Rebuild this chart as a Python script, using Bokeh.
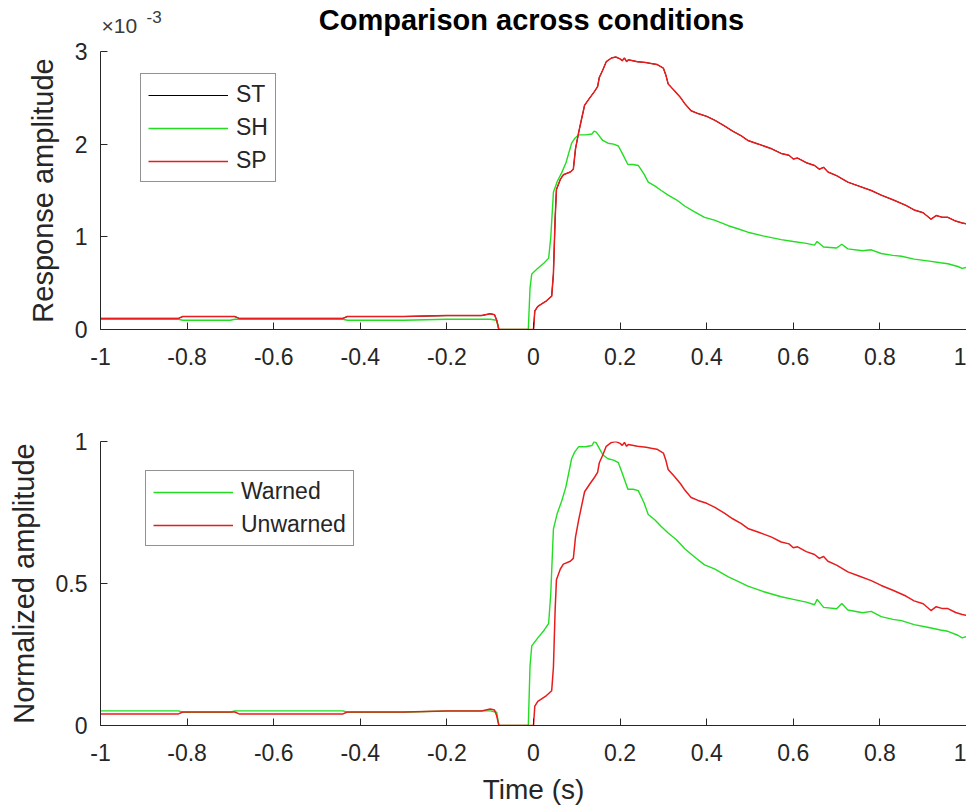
import numpy as np
from bokeh.plotting import figure
from bokeh.layouts import column
from bokeh.models import Range1d, FixedTicker, Label, Legend, LegendItem
from bokeh.embed import file_html
from bokeh.resources import INLINE

# ---------------- data ----------------
# Top panel: response amplitude, in units of 1e-3
sp_time = [-1.0, -0.9, -0.82, -0.81, -0.69, -0.68, -0.44, -0.43, -0.30, -0.20,
           -0.12, -0.10, -0.09, -0.085, -0.08, -0.04, 0.0, 0.003, 0.01, 0.03,
           0.042, 0.046, 0.050, 0.053, 0.062, 0.069, 0.085, 0.092, 0.097, 0.104,
           0.110, 0.118, 0.130, 0.141, 0.148, 0.152, 0.160, 0.168, 0.180, 0.190,
           0.200, 0.205, 0.210, 0.215, 0.219, 0.240, 0.260, 0.272, 0.285, 0.300,
           0.306, 0.311, 0.325, 0.340, 0.349, 0.364, 0.380, 0.400, 0.418, 0.440,
           0.460, 0.480, 0.495, 0.520, 0.550, 0.572, 0.590, 0.600, 0.610, 0.630,
           0.649, 0.660, 0.670, 0.680, 0.700, 0.726, 0.750, 0.780, 0.803, 0.830,
           0.860, 0.879, 0.900, 0.918, 0.930, 0.945, 0.957, 0.975, 0.990, 1.000]
sp_amp = [0.12, 0.12, 0.12, 0.14, 0.14, 0.12, 0.12, 0.14, 0.14, 0.15,
          0.15, 0.17, 0.16, 0.10, 0.0, 0.0, 0.0, 0.20, 0.25, 0.31,
          0.36, 0.60, 1.20, 1.51, 1.62, 1.67, 1.70, 1.73, 1.95, 2.12,
          2.25, 2.42, 2.50, 2.57, 2.62, 2.72, 2.80, 2.89, 2.93, 2.94,
          2.92, 2.90, 2.93, 2.89, 2.91, 2.89, 2.88, 2.87, 2.86, 2.82,
          2.74, 2.65, 2.58, 2.50, 2.44, 2.36, 2.33, 2.30, 2.26, 2.20,
          2.14, 2.09, 2.04, 2.00, 1.95, 1.90, 1.88, 1.84, 1.85, 1.80,
          1.77, 1.73, 1.75, 1.70, 1.66, 1.59, 1.55, 1.50, 1.45, 1.40,
          1.34, 1.29, 1.26, 1.19, 1.23, 1.21, 1.21, 1.17, 1.15, 1.14]
st_time = list(sp_time)
st_amp = list(sp_amp)

sh_time = [-1.0, -0.82, -0.81, -0.70, -0.69, -0.44, -0.43, -0.30, -0.20, -0.10,
           -0.085, -0.08, -0.012, -0.008, -0.004, 0.010, 0.025, 0.035, 0.040, 0.046,
           0.055, 0.065, 0.075, 0.088, 0.095, 0.104, 0.120, 0.135, 0.140, 0.145,
           0.150, 0.160, 0.172, 0.185, 0.196, 0.205, 0.218, 0.230, 0.242, 0.255,
           0.265, 0.280, 0.295, 0.311, 0.330, 0.350, 0.372, 0.395, 0.418, 0.450,
           0.470, 0.495, 0.530, 0.572, 0.600, 0.630, 0.649, 0.655, 0.670, 0.700,
           0.712, 0.726, 0.760, 0.780, 0.803, 0.830, 0.850, 0.879, 0.910, 0.940,
           0.957, 0.980, 0.990, 1.000]
sh_amp = [0.11, 0.11, 0.10, 0.10, 0.11, 0.11, 0.10, 0.10, 0.11, 0.11,
          0.10, 0.0, 0.0, 0.45, 0.60, 0.66, 0.72, 0.77, 1.00, 1.48,
          1.60, 1.69, 1.80, 2.01, 2.06, 2.10, 2.10, 2.11, 2.14, 2.13,
          2.10, 2.04, 2.01, 2.00, 1.98, 1.90, 1.78, 1.78, 1.77, 1.68,
          1.59, 1.55, 1.50, 1.45, 1.40, 1.33, 1.27, 1.21, 1.18, 1.12,
          1.09, 1.05, 1.01, 0.97, 0.95, 0.93, 0.91, 0.95, 0.89, 0.88,
          0.92, 0.87, 0.85, 0.86, 0.82, 0.80, 0.79, 0.76, 0.74, 0.72,
          0.71, 0.68, 0.66, 0.67]

# Bottom panel: normalized (each condition divided by its own peak)
warned_time = sh_time
warned_amp = list(np.array(sh_amp) / max(sh_amp))
unwarned_time = sp_time
unwarned_amp = list(np.array(sp_amp) / max(sp_amp))

x_ticks = [-1, -0.8, -0.6, -0.4, -0.2, 0, 0.2, 0.4, 0.6, 0.8, 1]
x_tick_labels = ["-1", "-0.8", "-0.6", "-0.4", "-0.2", "0", "0.2", "0.4", "0.6", "0.8", "1"]
top_y_ticks = [0, 1, 2, 3]
bottom_y_ticks = [0, 0.5, 1]

title_text = "Comparison across conditions"
exponent_base = "\u00d710"
exponent_power = "-3"

# ---------------- styling ----------------
FONT = "Liberation Sans"
AX = "#262626"
GREEN = "#22dd22"
RED = "#e81c1c"
BLACK = "#000000"
W = 966
FRAME_L = 100  # left border shared by all rows


def style(p, yticks, ylabels):
    p.xaxis.ticker = FixedTicker(ticks=x_ticks)
    p.xaxis.major_label_overrides = {t: l for t, l in zip(x_ticks, x_tick_labels)}
    p.yaxis.ticker = FixedTicker(ticks=yticks)
    p.yaxis.major_label_overrides = ylabels
    for ax in (p.xaxis[0], p.yaxis[0]):
        ax.axis_line_color = AX
        ax.axis_line_width = 1
        ax.major_tick_line_color = AX
        ax.major_tick_in = 7
        ax.major_tick_out = 0
        ax.minor_tick_line_color = None
        ax.major_label_text_font = FONT
        ax.major_label_text_font_size = "23px"
        ax.major_label_text_color = AX
        ax.axis_label_text_font = FONT
        ax.axis_label_text_font_size = "29px"
        ax.axis_label_text_font_style = "normal"
        ax.axis_label_text_color = AX
    p.xaxis.major_label_standoff = 18
    p.yaxis.major_label_standoff = 13
    p.yaxis.axis_label_standoff = 13
    p.xgrid.visible = False
    p.ygrid.visible = False
    p.outline_line_color = None
    p.background_fill_color = "white"
    p.border_fill_color = "white"


def make_legend(p, items, loc):
    lg = Legend(items=items, location=loc)
    lg.label_text_font = FONT
    lg.label_text_font_size = "23px"
    lg.label_text_color = AX
    lg.glyph_width = 80
    lg.glyph_height = 24
    lg.label_height = 24
    lg.label_standoff = 8
    lg.spacing = 6
    lg.padding = 7
    lg.margin = 0
    lg.border_line_color = AX
    lg.border_line_width = 1
    lg.background_fill_color = "white"
    lg.background_fill_alpha = 1.0
    p.add_layout(lg)


# ---------------- header strip (title and exponent) ----------------
# data units of the strip: x in page pixels, y in pixels up from the strip's bottom
HDR_H = 37
hdr = figure(width=W, height=HDR_H, output_backend="svg", toolbar_location=None,
             x_range=Range1d(FRAME_L, W), y_range=Range1d(0, HDR_H),
             min_border_left=FRAME_L, min_border_right=0, min_border_top=0, min_border_bottom=0)
hdr.axis.visible = False
hdr.grid.visible = False
hdr.outline_line_color = None
hdr.add_layout(Label(x=531, y=HDR_H - 19, text=title_text, text_font=FONT,
                     text_font_size="29px", text_font_style="bold", text_color="#000000",
                     text_align="center", text_baseline="middle"))
hdr.add_layout(Label(x=101, y=HDR_H - 25, text=exponent_base, text_font=FONT,
                     text_font_size="21px", text_color="#3a3a3a",
                     text_align="left", text_baseline="middle"))
hdr.add_layout(Label(x=146, y=HDR_H - 16, text=exponent_power, text_font=FONT,
                     text_font_size="17px", text_color="#3a3a3a",
                     text_align="left", text_baseline="middle"))

# ---------------- top panel ----------------
p1 = figure(width=W, height=358, output_backend="svg", toolbar_location=None,
            x_range=Range1d(-1, 1), y_range=Range1d(0, 3),
            min_border_left=FRAME_L, min_border_right=0, min_border_top=14, min_border_bottom=66)
style(p1, top_y_ticks, {0: "0", 1: "1", 2: "2", 3: "3"})
p1.yaxis.axis_label = "Response amplitude"

r_st = p1.line(st_time, st_amp, line_color=BLACK, line_width=1.0)
r_sh = p1.line(sh_time, sh_amp, line_color=GREEN, line_width=1.4)
r_sp = p1.line(sp_time, sp_amp, line_color=RED, line_width=1.5)
make_legend(p1, [LegendItem(label="ST", renderers=[r_st]),
                 LegendItem(label="SH", renderers=[r_sh]),
                 LegendItem(label="SP", renderers=[r_sp])], (40, 147))

# ---------------- bottom panel ----------------
p2 = figure(width=W, height=416, output_backend="svg", toolbar_location=None,
            x_range=Range1d(-1, 1), y_range=Range1d(0, 1),
            min_border_left=FRAME_L, min_border_right=0, min_border_top=46, min_border_bottom=86)
style(p2, bottom_y_ticks, {0: "0", 0.5: "0.5", 1: "1"})
p2.yaxis.axis_label = "Normalized amplitude"
p2.xaxis.axis_label = "Time (s)"
p2.xaxis.axis_label_text_font_size = "28px"
p2.xaxis.axis_label_standoff = 10

r_w = p2.line(warned_time, warned_amp, line_color=GREEN, line_width=1.4)
r_u = p2.line(unwarned_time, unwarned_amp, line_color=RED, line_width=1.5)
make_legend(p2, [LegendItem(label="Warned", renderers=[r_w]),
                 LegendItem(label="Unwarned", renderers=[r_u])], (45, 179))

layout = column(hdr, p1, p2, spacing=0)
open("out.html", "w").write(file_html(layout, INLINE))
